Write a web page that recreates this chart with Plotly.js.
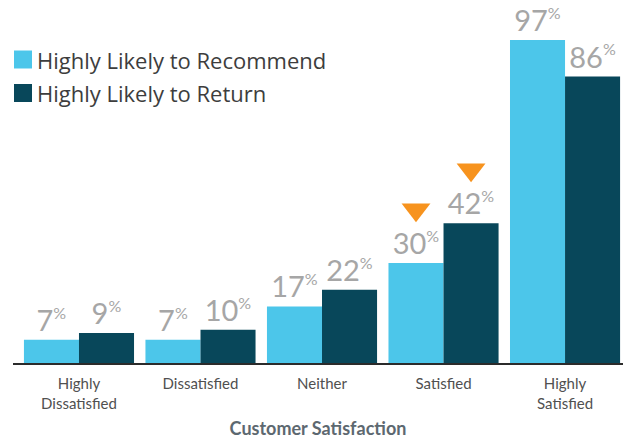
<!DOCTYPE html>
<html><head><meta charset="utf-8">
<script src="https://cdn.plot.ly/plotly-3.0.1.min.js"></script>
<style>body{margin:0;padding:0;background:#fff}#chart{width:623px;height:439px}</style>
</head><body><div id="chart"></div>
<script>
const categories = ["Highly<br>Dissatisfied", "Dissatisfied", "Neither", "Satisfied", "Highly<br>Satisfied"];
const seriesNames = ["Highly Likely to Recommend", "Highly Likely to Return"];
const recommend = [7, 7, 17, 30, 97];
const returnVals = [9, 10, 22, 42, 86];
const highlightIndex = 3;
const colors = ["#4cc6ea", "#08475a"];
const FONT = "Lato, 'Open Sans', sans-serif";
const LFONT = "'Open Sans', Lato, sans-serif";

const idx = categories.map((c, i) => i);
const bargap = 0.094;
const barW = (1 - bargap) / 2;
const markerLift = 16;

const traces = [recommend, returnVals].map((vals, k) => ({
  type: "bar",
  x: idx,
  y: vals,
  name: seriesNames[k],
  marker: {color: colors[k]},
  texttemplate: "%{y}<sup><span style='font-size:16px'>%</span></sup>",
  textposition: "outside",
  constraintext: "none",
  cliponaxis: false,
  textfont: {family: FONT, size: 29, color: "#a6a6a6"},
  showlegend: false,
  hoverinfo: "skip"
}));

traces.push({
  type: "scatter",
  mode: "markers",
  x: [highlightIndex - barW / 2, highlightIndex + barW / 2],
  y: [recommend[highlightIndex] + markerLift, returnVals[highlightIndex] + markerLift],
  marker: {symbol: "triangle-down", size: 25, color: "#f7931e"},
  showlegend: false,
  hoverinfo: "skip",
  cliponaxis: false
});

const px2x = p => (p - 13) / 610;
const px2y = p => (363 - p) / 363;
const legendRows = [59.5, 93];
const shapes = [];
const annotations = [];
seriesNames.forEach((n, k) => {
  const cy = legendRows[k];
  shapes.push({type: "rect", xref: "paper", yref: "paper",
    x0: px2x(14), x1: px2x(32), y0: px2y(cy + 9), y1: px2y(cy - 9),
    fillcolor: colors[k], line: {width: 0}});
  annotations.push({xref: "paper", yref: "paper", x: px2x(35), y: px2y(cy),
    xanchor: "left", yanchor: "middle", showarrow: false, text: n,
    font: {family: LFONT, size: 22, color: "#3d3d3d"}});
});

const layout = {
  width: 623, height: 439,
  margin: {l: 13, r: 0, t: 0, b: 76},
  paper_bgcolor: "#fff", plot_bgcolor: "#fff",
  barmode: "group",
  bargap: bargap,
  bargroupgap: 0,
  xaxis: {
    range: [-0.543, 4.477],
    tickmode: "array", tickvals: idx, ticktext: categories,
    showline: true, linecolor: "#2b2b2b", linewidth: 2,
    showgrid: false, zeroline: false,
    ticks: "outside", ticklen: 6, tickcolor: "rgba(0,0,0,0)",
    tickfont: {family: FONT, size: 15, color: "#505050"},
    title: {text: "<b>Customer Satisfaction</b>", standoff: 13,
      font: {family: FONT, size: 18, color: "#5d6870"}},
    fixedrange: true
  },
  yaxis: {range: [0, 109], visible: false, fixedrange: true},
  shapes: shapes,
  annotations: annotations,
  showlegend: false
};

Plotly.newPlot("chart", traces, layout, {displayModeBar: false, staticPlot: true});
</script></body></html>
